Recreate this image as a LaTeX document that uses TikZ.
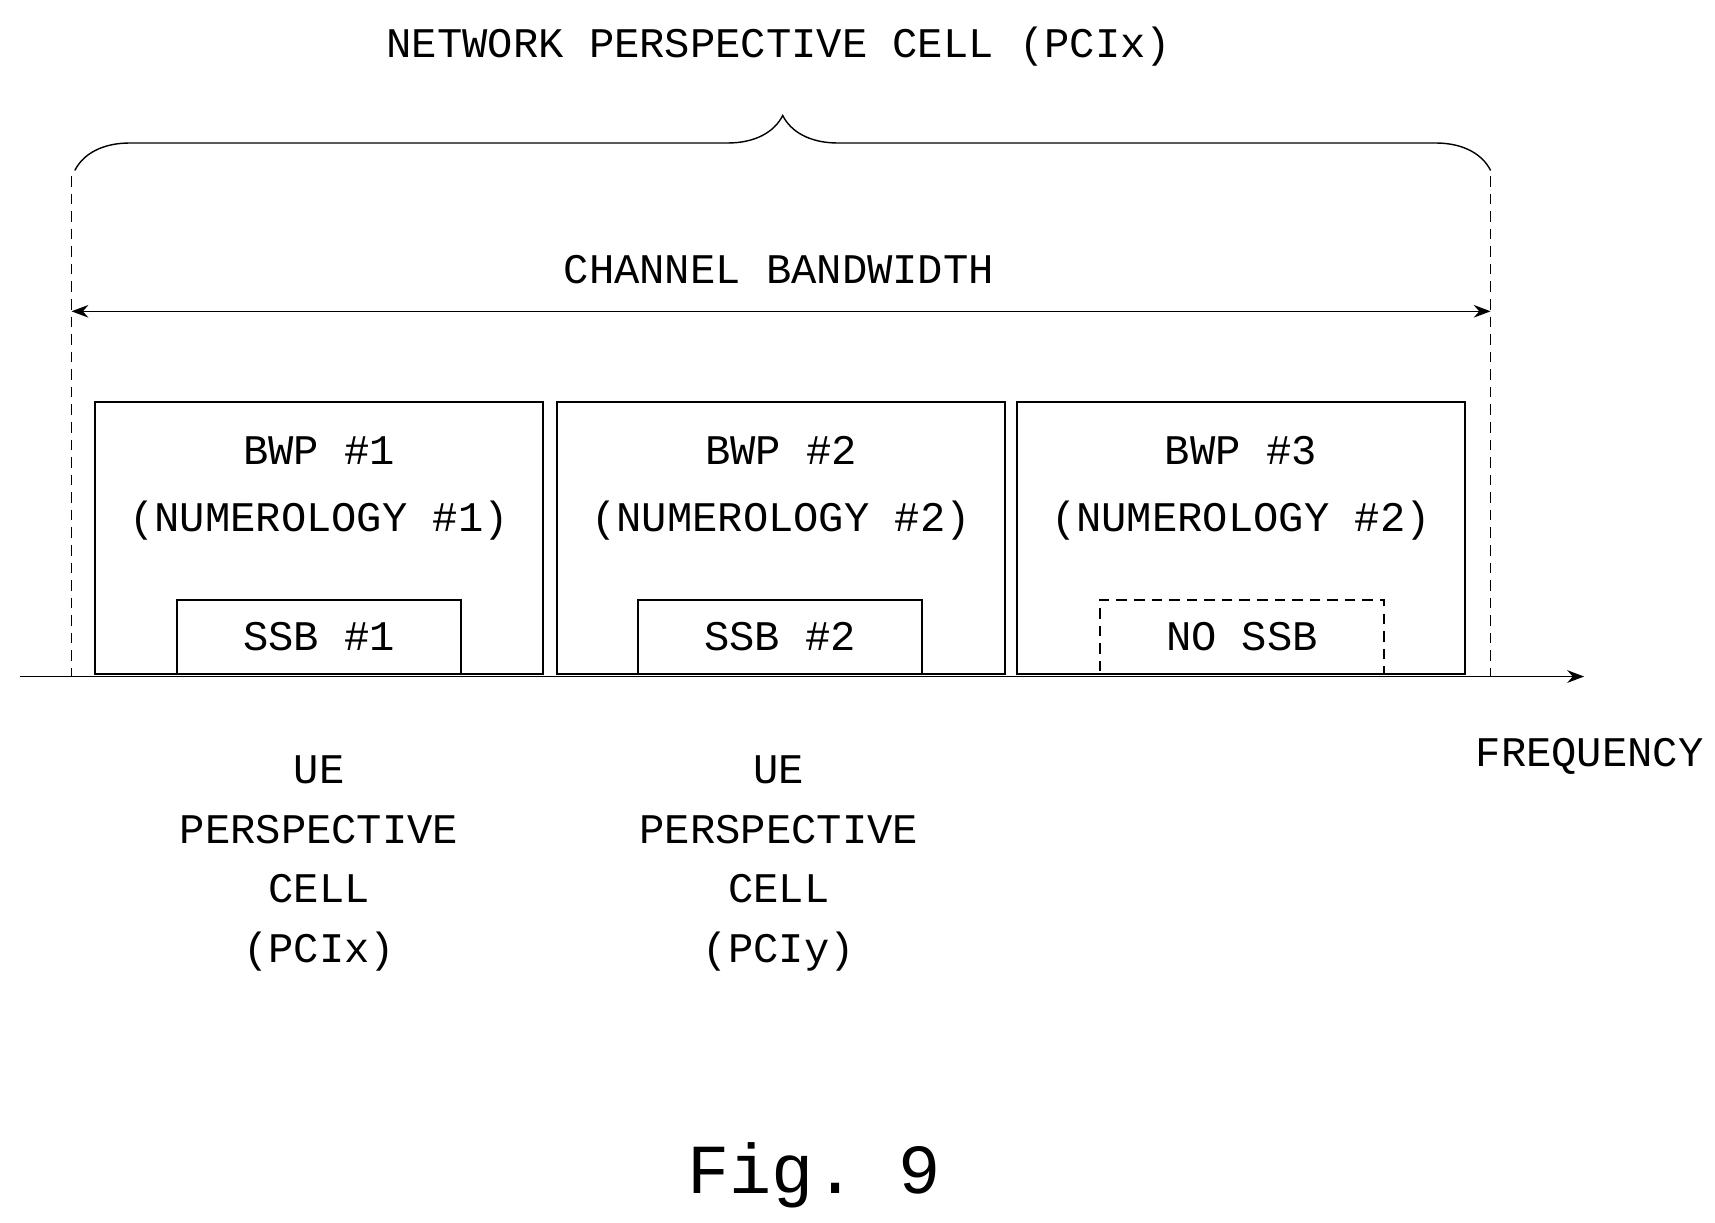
\documentclass[tikz,border=0pt]{standalone}
\usepackage{fontspec}
\setmonofont{Liberation Mono}
\usetikzlibrary{positioning, calc, arrows.meta, decorations.pathreplacing}

\tikzset{
  lbl/.style={font=\ttfamily\fontsize{12}{17}\selectfont, align=center, inner sep=0pt},
  bwp/.style={draw, thin, minimum width=4.48cm, minimum height=2.72cm, inner sep=0pt},
  ssb/.style={draw, thin, minimum width=2.84cm, minimum height=0.74cm, inner sep=0pt},
}

\begin{document}
\begin{tikzpicture}[x=0.011cm, y=-0.011cm, >=Stealth]
\useasboundingbox (0,0) rectangle (1559,1111);

% title and brace
\node[lbl] (net) at (708,42) {NETWORK PERSPECTIVE CELL (PCIx)};
\draw[thin, decorate, decoration={brace, amplitude=0.55cm}] (68,155) -- (1355,155);

% edges of the channel
\coordinate (lt) at (65,160);  \coordinate (lb) at (65,615);
\coordinate (rt) at (1355,160); \coordinate (rb) at (1355,615);
\draw[thin, densely dashed] (lt) -- (lb);
\draw[thin, densely dashed] (rt) -- (rb);

\node[lbl] (chbw) at (708,245) {CHANNEL BANDWIDTH};
\coordinate (al) at (65,283); \coordinate (ar) at (1355,283);
\draw[thin, <->] (al) -- (ar);

% bandwidth parts
\node[bwp] (b1) at (290,489) {};
\node[bwp] (b2) at (710,489) {};
\node[bwp] (b3) at (1128,489) {};
\node[lbl, font=\ttfamily\fontsize{12}{19}\selectfont] at (290,444) {BWP \#1\\(NUMEROLOGY \#1)};
\node[lbl, font=\ttfamily\fontsize{12}{19}\selectfont] at (710,444) {BWP \#2\\(NUMEROLOGY \#2)};
\node[lbl, font=\ttfamily\fontsize{12}{19}\selectfont] at (1128,444) {BWP \#3\\(NUMEROLOGY \#2)};
\node[ssb] (s1) at (290,579) {};
\node[ssb] (s2) at (709,579) {};
\node[ssb, densely dashed] (s3) at (1129,579) {};
\node[lbl] at (290,579) {SSB \#1};
\node[lbl] at (709,579) {SSB \#2};
\node[lbl] at (1129,579) {NO SSB};

% frequency axis
\coordinate (f0) at (18,615); \coordinate (f1) at (1440,615);
\draw[thin, ->] (f0) -- (f1);
\node[lbl] (freq) at (1445,688) {FREQUENCY};

\node[lbl] (ue1) at (290,785) {UE\\PERSPECTIVE\\CELL\\(PCIx)};
\node[lbl] (ue2) at (708,785) {UE\\PERSPECTIVE\\CELL\\(PCIy)};

\node[font=\ttfamily\fontsize{20}{24}\selectfont] (fig) at (740,1068) {Fig. 9};
\end{tikzpicture}
\end{document}
